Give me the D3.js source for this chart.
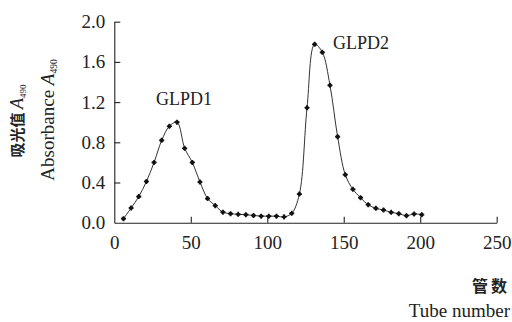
<!DOCTYPE html>
<html><head><meta charset="utf-8">
<script src="https://cdn.jsdelivr.net/npm/d3@7"></script>
</head><body style="margin:0">
<script>
const tubes = [6,11,16,21,26,31,36,41,46,51,56,61,66,71,76,81,86,91,96,101,106,111,116,121,126,131,136,141,146,151,156,161,166,171,176,181,186,191,196,201];
const absorbance = [0.04,0.146,0.26,0.41,0.60,0.82,0.96,1.00,0.74,0.60,0.405,0.24,0.17,0.105,0.09,0.083,0.08,0.072,0.065,0.065,0.065,0.058,0.093,0.285,1.144,1.775,1.695,1.367,0.856,0.478,0.332,0.249,0.179,0.143,0.126,0.103,0.09,0.07,0.087,0.08];
const xTicks = [0,50,100,150,200,250];
const yTicks = [0.0,0.4,0.8,1.2,1.6,2.0];
const peakLabels = ["GLPD1","GLPD2"];

const W=512,H=322, m={l:114.3,r:15.3,t:21.7,b:99.3};
const SERIF='"Liberation Serif"', CJK='"Noto Sans CJK SC"';
const svg=d3.select("body").append("svg").attr("width",W).attr("height",H);
const x=d3.scaleLinear().domain([0,250]).range([m.l,W-m.r]);
const y=d3.scaleLinear().domain([0,2]).range([H-m.b,m.t]);

const xa=svg.append("g").attr("transform",`translate(0,${y(0)})`)
  .call(d3.axisBottom(x).tickValues(xTicks).tickSizeInner(-6).tickSizeOuter(0).tickPadding(13).tickFormat(d3.format("d")));
const ya=svg.append("g").attr("transform",`translate(${x(0)},0)`)
  .call(d3.axisLeft(y).tickValues(yTicks).tickSizeInner(-6).tickSizeOuter(0).tickPadding(9).tickFormat(d3.format(".1f")));
[xa,ya].forEach(g=>{g.attr("font-family",SERIF).attr("font-size",19);
  g.selectAll("path,line").attr("stroke","#222").attr("stroke-width",1.1);
  g.selectAll("text").style("font-family",SERIF).style("font-size","19px").attr("fill","#222");});
xa.selectAll(".tick").filter(d=>d===0).select("line").remove();
ya.selectAll(".tick").filter(d=>d===0).select("line").remove();

const pts=tubes.map((t,i)=>[t,absorbance[i]]);
svg.append("path").datum(pts).attr("fill","none").attr("stroke","#333").attr("stroke-width",1)
  .attr("d",d3.line().x(d=>x(d[0])).y(d=>y(d[1])).curve(d3.curveCatmullRom.alpha(0.5)));
svg.append("g").selectAll("path").data(pts).join("path")
  .attr("transform",d=>`translate(${x(d[0])},${y(d[1])})`)
  .attr("d",d3.symbol().type(d3.symbolCircle).size(12)).attr("fill","#111");
svg.append("g").selectAll("path").data(pts).join("path")
  .attr("transform",d=>`translate(${x(d[0])},${y(d[1])})`)
  .attr("d",d3.symbol().type(d3.symbolCross).size(14)).attr("fill","#111");

svg.append("g").selectAll("text").data(peakLabels).join("text")
  .attr("x",(d,i)=>i===0?184:361).attr("y",(d,i)=>i===0?105:48.5)
  .attr("text-anchor","middle").style("font-family",SERIF).style("font-size","18px").attr("fill","#222").text(d=>d);

// y labels
const yl1=svg.append("text").attr("transform","translate(23,121) rotate(-90)").attr("text-anchor","middle").attr("fill","#222");
yl1.append("tspan").style("font-family",CJK).style("font-weight","bold").style("font-size","15px").text("吸光值 ");
yl1.append("tspan").style("font-family",SERIF).style("font-style","italic").style("font-size","18px").text("A");
yl1.append("tspan").style("font-family",SERIF).style("font-size","9px").attr("dy",3).text("490");
const yl2=svg.append("text").attr("transform","translate(54,120) rotate(-90)").attr("text-anchor","middle").attr("fill","#222");
yl2.append("tspan").style("font-family",SERIF).style("font-size","19px").text("Absorbance ");
yl2.append("tspan").style("font-family",SERIF).style("font-style","italic").style("font-size","19px").text("A");
yl2.append("tspan").style("font-family",SERIF).style("font-size","9.5px").attr("dy",3).text("490");

svg.append("text").attr("x",510).attr("y",292).attr("text-anchor","end")
  .style("font-family",CJK).style("font-weight","bold").style("font-size","16px").attr("letter-spacing",3).attr("fill","#222").text("管数");
svg.append("text").attr("x",510).attr("y",317).attr("text-anchor","end")
  .style("font-family",SERIF).style("font-size","19px").attr("fill","#222").text("Tube number");
</script>
</body></html>
